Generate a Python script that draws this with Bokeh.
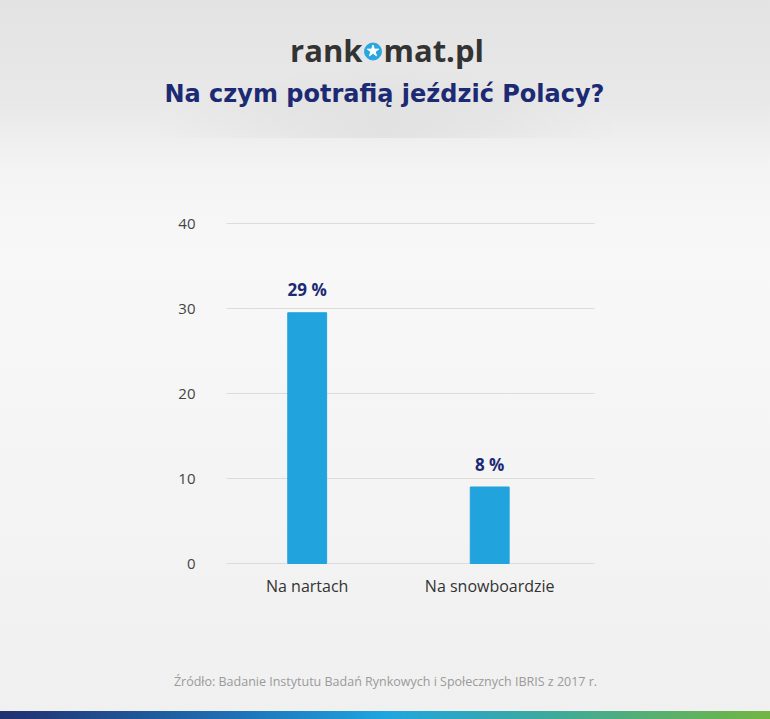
from bokeh.plotting import figure
from bokeh.models import ColumnDataSource, Label, Range1d, FixedTicker
from bokeh.core.properties import value
from bokeh.embed import file_html
from bokeh.resources import INLINE

categories = ["Na nartach", "Na snowboardzie"]
values = [29.5, 9.0]
value_labels = ["29 %", "8 %"]
y_ticks = [0, 10, 20, 30, 40]

title_text = "Na czym potrafią jeździć Polacy?"
source_text = "Źródło: Badanie Instytutu Badań Rynkowych i Społecznych IBRIS z 2017 r."

FONT = "Open Sans"
NAVY = "#1c2a74"
BLUE = "#21a3dd"
W, H = 770, 719

# layout constants (pixels of the page)
PX_PER_CAT = 182.5      # distance between category centres
CAT0_PX = 306.7         # centre of first category
PX_PER_UNIT = 8.5       # vertical pixels per percentage point
ZERO_PX = 563           # baseline position
PLOT_LEFT, PLOT_RIGHT = 226, 594


def x_at(px):
    return (px - CAT0_PX) / PX_PER_CAT


def y_at(py):
    return (ZERO_PX - py) / PX_PER_UNIT


idx = list(range(len(categories)))
source = ColumnDataSource(dict(x=idx, top=values, label=value_labels))

p = figure(width=W, height=H, output_backend="svg", toolbar_location=None,
           x_range=Range1d(x_at(0), x_at(W)), y_range=Range1d(y_at(H), y_at(0)),
           min_border=0, min_border_left=0, min_border_right=0,
           min_border_top=0, min_border_bottom=0)
p.styles = {
    "background": "linear-gradient(90deg, #22306f 0%, #1e6fb5 30%, #1fa5e0 50%, #3aa9a0 70%, #72b642 100%) left bottom / 100% 8px no-repeat, "
                  "radial-gradient(ellipse 240px 70px at 50% 137px, rgba(0,0,0,0.05), rgba(0,0,0,0)) left top / 100% 138px no-repeat, "
                  "linear-gradient(180deg, #e3e3e3 0px, #e8e8e8 100px, #eeeeee 135px, #f4f4f4 170px, #f8f8f8 260px, #f4f4f4 480px, #f0f0f0 719px)"
}
p.border_fill_color = None
p.background_fill_color = None
p.outline_line_color = None

# grid lines only across the plotting area
p.xgrid.visible = False
g = p.ygrid[0]
g.ticker = FixedTicker(ticks=y_ticks)
g.grid_line_color = "#dcdcdc"
g.grid_line_width = 1
if "cross_bounds" in g.properties():
    g.cross_bounds = (x_at(PLOT_LEFT), x_at(PLOT_RIGHT))
else:
    g.visible = False
    p.segment(x0=[x_at(PLOT_LEFT)] * len(y_ticks), x1=[x_at(PLOT_RIGHT)] * len(y_ticks),
              y0=y_ticks, y1=y_ticks, line_color="#dcdcdc", line_width=1)

p.vbar(x="x", top="top", width=0.213, color=BLUE, source=source)
p.text(x="x", y="top", text="label", source=source, text_align="center",
       text_baseline="alphabetic", y_offset=-23, text_font=value(FONT),
       text_font_style="bold", text_font_size="17px", text_color=NAVY)

# axes drawn at fixed locations inside the canvas
p.yaxis.fixed_location = x_at(PLOT_LEFT)
p.xaxis.fixed_location = 0
p.yaxis.ticker = FixedTicker(ticks=y_ticks)
p.xaxis.ticker = FixedTicker(ticks=idx)
p.xaxis.major_label_overrides = {i: c for i, c in zip(idx, categories)}
for ax in (p.xaxis, p.yaxis):
    ax.axis_line_color = None
    ax.major_tick_line_color = None
    ax.minor_tick_line_color = None
    ax.major_tick_out = 0
    ax.major_tick_in = 0
    ax.minor_tick_out = 0
    ax.minor_tick_in = 0
    ax.major_label_text_font = FONT
p.yaxis.major_label_standoff = 31
p.yaxis.major_label_text_font_size = "15px"
p.yaxis.major_label_text_color = "#444444"
p.xaxis.major_label_standoff = 11
p.xaxis.major_label_text_font_size = "16px"
p.xaxis.major_label_text_color = "#333333"

# logo
p.add_layout(Label(x=362, y=H - 49, x_units="screen", y_units="screen", text="rank",
                   text_align="right", text_baseline="alphabetic", text_font=FONT,
                   text_font_style="bold", text_font_size="31px", text_color="#333333"))
p.add_layout(Label(x=383, y=H - 49, x_units="screen", y_units="screen", text="mat.pl",
                   text_align="left", text_baseline="alphabetic", text_font=FONT,
                   text_font_style="bold", text_font_size="31px", text_color="#333333"))
p.scatter(x=[x_at(372.5)], y=[y_at(51)], marker="circle", size=17, color="#2aa6e0")
p.scatter(x=[x_at(372.5)], y=[y_at(50.5)], marker="star", size=12, color="white")

# title
p.add_layout(Label(x=384, y=H - 93, x_units="screen", y_units="screen", text=title_text,
                   text_align="center", text_baseline="alphabetic", text_font="DejaVu Sans",
                   text_font_style="bold", text_font_size="24px", text_color=NAVY))

# source
p.add_layout(Label(x=385, y=H - 681, x_units="screen", y_units="screen", text=source_text,
                   text_align="center", text_baseline="alphabetic", text_font=FONT,
                   text_font_size="12.5px", text_color="#9a9a9a"))

open("out.html", "w").write(file_html(p, INLINE))
